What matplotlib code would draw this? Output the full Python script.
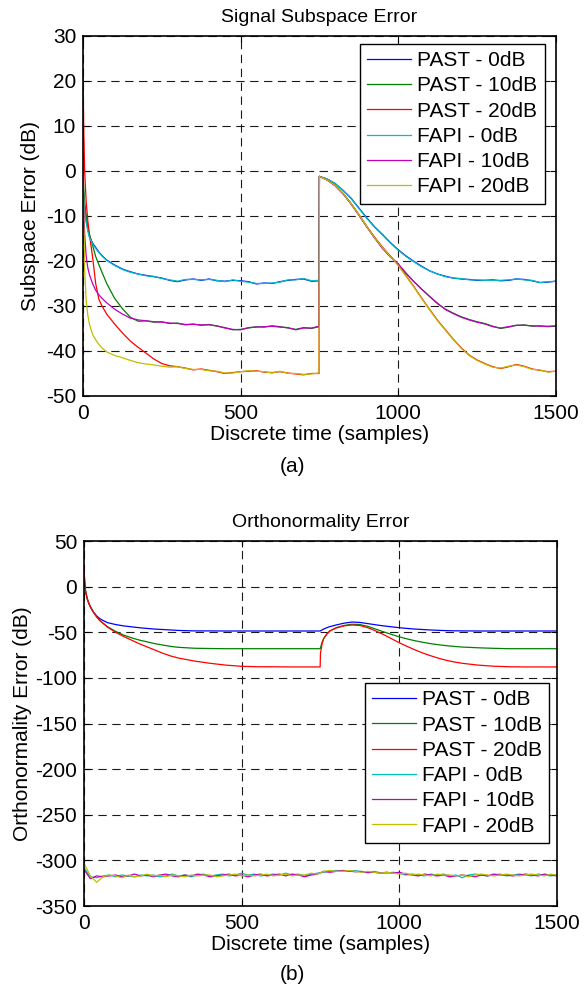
import matplotlib
matplotlib.use("Agg")
import matplotlib.pyplot as plt

plt.rcParams['font.family'] = ['Liberation Sans', 'DejaVu Sans']
plt.rcParams['axes.unicode_minus'] = False

# ---------------- Data: Signal Subspace Error ----------------
t_top = [0, 2, 5, 10, 15, 20, 30, 40, 50, 60, 75,
         100, 125, 150, 175, 200, 225, 250, 275, 300, 325, 350, 375, 400, 425,
         450, 475, 500, 525, 550, 575, 600, 625, 650, 675, 700, 725, 749,
         750, 775, 800, 825, 850, 875, 900, 925, 950, 975, 1000, 1025, 1050,
         1075, 1100, 1125, 1150, 1175, 1200, 1225, 1250, 1275, 1300, 1325,
         1350, 1375, 1400, 1425, 1450, 1475, 1500]

past_0_top = [-2, -5, -8, -11, -13, -14.5, -16, -17, -18, -18.8, -19.8,
              -20.9, -21.8, -22.4, -22.9, -23.2, -23.5, -23.8, -24.3, -24.6, -24.2, -24.0, -24.3, -24.0, -24.4,
              -24.5, -24.3, -24.4, -24.6, -25.1, -24.9, -25.0, -24.6, -24.3, -24.1, -24.0, -24.5, -24.4,
              -1.2, -1.8, -2.8, -4.3, -6.0, -8.2, -10.4, -12.4, -14.1, -15.9, -17.5, -18.9, -20.1,
              -21.2, -22.2, -22.9, -23.4, -23.8, -24.0, -24.1, -24.3, -24.3, -24.2, -24.4,
              -24.3, -24.0, -24.1, -24.4, -24.8, -24.7, -24.5]
past_10_top = [-1, -4, -7, -10, -12.5, -14, -16.5, -19, -20.8, -22.5, -25,
               -28.3, -30.6, -32.5, -33.4, -33.3, -33.6, -33.5, -33.9, -33.8, -34.2, -34.0, -34.3, -34.1, -34.5,
               -34.8, -35.3, -35.2, -34.9, -34.6, -34.7, -34.4, -34.6, -34.9, -35.2, -34.8, -35.0, -34.6,
               -1.2, -2.0, -3.2, -5.0, -7.2, -9.7, -12.3, -14.8, -17.1, -19.0, -20.8, -22.8, -24.6,
               -26.3, -27.9, -29.5, -30.7, -31.6, -32.4, -33.0, -33.5, -33.9, -34.5, -35.0,
               -34.7, -34.3, -34.2, -34.5, -34.4, -34.6, -34.5]
past_20_top = [21, 10, 0, -7, -11, -14, -19, -25, -28.5, -30, -31.8,
               -34.0, -36.0, -37.8, -39.2, -40.5, -41.8, -42.8, -43.3, -43.5, -43.8, -44.2, -44.0, -44.3, -44.6,
               -45.0, -44.8, -44.6, -44.5, -44.4, -44.7, -44.8, -44.6, -44.9, -45.1, -45.3, -45.0, -45.0,
               -1.2, -2.0, -3.2, -5.0, -7.2, -9.7, -12.3, -14.7, -16.9, -18.9, -20.9, -23.3, -25.7,
               -28.3, -30.8, -33.2, -35.3, -37.4, -39.3, -40.9, -42.0, -42.8, -43.5, -43.9,
               -43.5, -43.0, -43.4, -44.0, -44.3, -44.6, -44.5]
fapi_0_top = [-3, -6, -9, -11.5, -13.3, -14.7, -16.2, -17.2, -18.1, -18.9, -19.9,
              -21.0, -21.9, -22.5, -22.9, -23.3, -23.4, -23.9, -24.2, -24.5, -24.1, -24.1, -24.2, -24.1, -24.3,
              -24.6, -24.2, -24.5, -24.7, -25.0, -25.0, -24.9, -24.7, -24.2, -24.2, -23.9, -24.4, -24.3,
              -1.2, -1.8, -2.8, -4.3, -6.1, -8.3, -10.5, -12.5, -14.2, -16.0, -17.6, -19.0, -20.2,
              -21.3, -22.2, -22.9, -23.5, -23.8, -23.9, -24.2, -24.2, -24.3, -24.3, -24.3,
              -24.2, -24.0, -24.2, -24.3, -24.8, -24.6, -24.5]
fapi_10_top = [-2, -8, -14, -19, -21.5, -23, -25, -26.5, -27.5, -28.3, -29.3,
               -30.7, -31.8, -32.7, -33.1, -33.3, -33.5, -33.6, -33.8, -33.9, -34.1, -34.1, -34.2, -34.2, -34.4,
               -34.9, -35.2, -35.3, -34.8, -34.7, -34.6, -34.5, -34.7, -34.8, -35.3, -34.9, -34.9, -34.5,
               -1.2, -2.0, -3.3, -5.1, -7.3, -9.8, -12.4, -14.9, -17.2, -19.1, -20.6, -22.7, -24.6,
               -26.3, -27.9, -29.4, -30.8, -31.7, -32.5, -33.1, -33.6, -34.0, -34.6, -34.9,
               -34.6, -34.3, -34.3, -34.4, -34.5, -34.5, -34.4]
fapi_20_top = [7, -10, -22, -29, -32, -34, -36.3, -37.5, -38.5, -39.3, -40.2,
               -41.0, -41.5, -42.1, -42.6, -42.9, -43.1, -43.4, -43.6, -43.5, -43.9, -44.1, -44.1, -44.4, -44.5,
               -44.9, -44.9, -44.6, -44.4, -44.5, -44.6, -44.9, -44.5, -45.0, -45.0, -45.2, -45.1, -44.9,
               -1.2, -2.0, -3.2, -5.0, -7.2, -9.7, -12.3, -14.8, -17.0, -19.0, -21.0, -23.4, -25.8,
               -28.4, -30.9, -33.3, -35.4, -37.5, -39.4, -41.0, -42.1, -42.9, -43.6, -43.8,
               -43.4, -43.1, -43.5, -44.1, -44.2, -44.7, -44.5]

# ---------------- Data: Orthonormality Error ----------------
t_bot = [0, 2, 5, 10, 15, 20, 30, 40, 50, 60, 75, 100, 125, 150, 175, 200,
         225, 250, 275, 300, 350, 400, 450, 500, 550, 600, 650, 700, 749,
         750, 755, 760, 770, 780, 800, 825, 850, 875, 900, 925, 950, 975,
         1000, 1025, 1050, 1075, 1100, 1125, 1150, 1175, 1200, 1250, 1300,
         1350, 1400, 1450, 1500]

past_0_bot = [21, 5, -5, -13, -18, -22, -28, -32, -35, -37, -39.5, -41.5, -43, -44, -45, -45.8,
              -46.5, -47, -47.5, -48, -48.5, -48.5, -48.6, -48.6, -48.6, -48.6, -48.6, -48.6, -48.6,
              -48.4, -47.5, -46.5, -45, -43.8, -42, -40, -38.8, -39.2, -40.5, -41.8, -43, -44,
              -45, -45.8, -46.5, -47, -47.5, -47.9, -48.2, -48.4, -48.5, -48.6, -48.6,
              -48.6, -48.6, -48.6, -48.6]
past_10_bot = [21, 5, -5, -13, -18, -22, -28, -33, -37, -40, -44, -49, -53, -56, -58.5, -60.5,
               -62.5, -64, -65.5, -66.5, -67.5, -67.8, -68, -68, -68, -68, -68, -68, -68,
               -67, -61, -57, -52, -48.5, -45, -42.5, -41.2, -41.5, -43.5, -46.5, -49.5, -52.3,
               -55, -57.3, -59.3, -61, -62.5, -63.7, -64.7, -65.5, -66.2, -67, -67.6,
               -68, -68, -68, -68]
past_20_bot = [21, 5, -5, -13, -18, -22, -28, -33, -37, -40, -44.5, -50, -54.5, -58.5, -62.5, -66,
               -69.5, -73, -76, -78.3, -81.5, -84, -86, -87.3, -87.8, -87.8, -88, -88, -88,
               -73, -63, -57, -52, -48.5, -45.3, -43, -42, -42.6, -45, -48.5, -52.5, -57,
               -61.5, -65.5, -69.3, -72.8, -75.8, -78.5, -80.8, -82.6, -84, -86, -87.2,
               -87.8, -88, -88, -88]

t_fapi = list(range(0, 1501, 20))
fapi_0_bot = [-308, -318, -319, -317, -316, -318, -316, -317, -318, -316,
              -317, -316, -318, -317, -315, -317, -316, -318, -316, -315,
              -317, -316, -315, -317, -316, -314, -316, -315, -317, -316,
              -315, -316, -314, -316, -315, -317, -315, -314, -313, -312,
              -311, -311.5, -312, -311, -312.5, -313, -312, -313.5, -314, -313,
              -314, -316, -315, -316, -317, -315, -316, -315, -317, -316,
              -319, -316, -315, -316, -317, -316, -315, -317, -316, -315,
              -316, -317, -315, -316, -317, -316]
fapi_10_bot = [-310, -320, -317, -318, -317, -316, -318, -317, -315, -317,
               -316, -318, -316, -315, -317, -318, -316, -317, -315, -316,
               -318, -317, -316, -315, -317, -316, -318, -316, -315, -317,
               -316, -315, -317, -315, -316, -318, -316, -315, -312, -313,
               -312, -311, -311.5, -312.5, -312, -313.5, -313, -314, -313, -314,
               -313, -315, -316, -317, -315, -316, -317, -316, -318, -317,
               -316, -317, -318, -316, -317, -315, -316, -316, -317, -316,
               -315, -316, -317, -315, -316, -317]
fapi_20_bot = [-303, -317, -324, -318, -316, -317, -319, -316, -318, -317,
               -315, -317, -316, -318, -316, -317, -318, -316, -317, -316,
               -316, -318, -317, -316, -315, -317, -316, -317, -316, -315,
               -317, -316, -315, -317, -316, -316, -314, -315, -312, -311,
               -312, -312, -311, -312, -313, -312, -313, -314, -313, -314,
               -315, -314, -316, -315, -316, -317, -315, -316, -316, -317,
               -316, -318, -316, -315, -316, -317, -316, -315, -316, -317,
               -316, -315, -316, -317, -315, -316]

labels = ['PAST - 0dB', 'PAST - 10dB', 'PAST - 20dB',
          'FAPI - 0dB', 'FAPI - 10dB', 'FAPI - 20dB']
colors = ['#0000FF', '#008000', '#FF0000', '#00BFBF', '#BF00BF', '#BFBF00']

x_ticks = [0, 500, 1000, 1500]
top_yticks = [-50, -40, -30, -20, -10, 0, 10, 20, 30]
bot_yticks = [-350, -300, -250, -200, -150, -100, -50, 0, 50]

FS = 15

fig = plt.figure(figsize=(5.85, 9.86), dpi=100)

ax1 = fig.add_axes([0.142, 0.5984, 0.808, 0.3651])
ax2 = fig.add_axes([0.1436, 0.0811, 0.8084, 0.3702])


def style(ax):
    ax.set_xlim(0, 1500)
    ax.set_xticks(x_ticks)
    ax.grid(True, color='0.1', linestyle=(0, (7.5, 5)), linewidth=0.8)
    ax.set_axisbelow(True)
    ax.tick_params(direction='in', top=True, right=True, labelsize=FS,
                   length=4, width=0.8)
    ax.tick_params(axis='x', pad=6)
    ax.tick_params(axis='y', pad=5)
    for s in ax.spines.values():
        s.set_linewidth(1.2)
        s.set_color('black')
    ax.set_xlabel('Discrete time (samples)', fontsize=FS, labelpad=1)


def make_legend(ax, anchor):
    leg = ax.legend(loc='upper right', bbox_to_anchor=anchor, fontsize=FS,
                    frameon=True, fancybox=False, framealpha=1, edgecolor='black',
                    handlelength=2.1, labelspacing=0.3, borderpad=0.35,
                    handletextpad=0.3, borderaxespad=0)
    leg.get_frame().set_linewidth(1.0)
    return leg


top_series = [past_0_top, past_10_top, past_20_top, fapi_0_top, fapi_10_top, fapi_20_top]
for ys, c, lab in zip(top_series, colors, labels):
    ax1.plot(t_top, ys, color=c, lw=0.9, label=lab)
ax1.set_ylim(-50, 30)
ax1.set_yticks(top_yticks)
style(ax1)
ax1.set_ylabel('Subspace Error (dB)', fontsize=FS, labelpad=4)
ax1.set_title('Signal Subspace Error', fontsize=14, pad=10)
make_legend(ax1, (0.977, 0.978))

past_bot = [past_0_bot, past_10_bot, past_20_bot]
fapi_bot = [fapi_0_bot, fapi_10_bot, fapi_20_bot]
for ys, c, lab in zip(past_bot, colors[:3], labels[:3]):
    ax2.plot(t_bot, ys, color=c, lw=0.9, label=lab)
for ys, c, lab in zip(fapi_bot, colors[3:], labels[3:]):
    ax2.plot(t_fapi, ys, color=c, lw=0.9, label=lab)
ax2.set_ylim(-350, 50)
ax2.set_yticks(bot_yticks)
style(ax2)
ax2.set_ylabel('Orthonormality Error (dB)', fontsize=FS, labelpad=2)
ax2.set_title('Orthonormality Error', fontsize=14, pad=10)
make_legend(ax2, (0.984, 0.611))

fig.text(0.5, 1 - 466 / 986, '(a)', ha='center', va='center', fontsize=15,
         family=['Liberation Sans Narrow', 'Liberation Sans'])
fig.text(0.5, 1 - 975 / 986, '(b)', ha='center', va='center', fontsize=15,
         family=['Liberation Sans Narrow', 'Liberation Sans'])

fig.savefig('out.png', dpi=100)
